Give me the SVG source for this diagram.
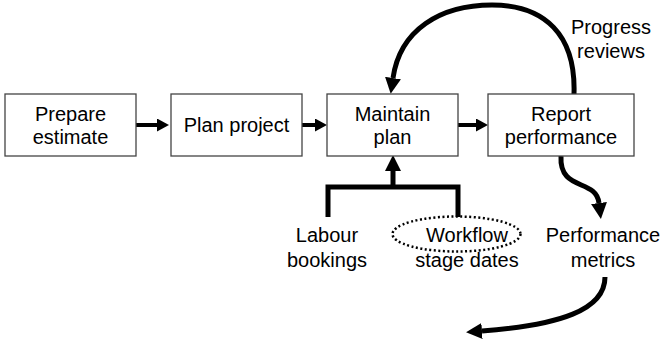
<svg xmlns="http://www.w3.org/2000/svg" width="663" height="345" viewBox="0 0 663 345">
<style>
.box{fill:#fff;stroke:#444;stroke-width:1.3}
text{font-family:"Liberation Sans",Arial,sans-serif;font-size:20px;fill:#000;text-anchor:middle}
.arr{fill:none;stroke:#000;stroke-width:4}
.thk{fill:none;stroke:#000;stroke-width:5}
</style>
<defs>
<marker id="hs" markerUnits="userSpaceOnUse" viewBox="0 0 12 13" refX="0" refY="6.5" markerWidth="12" markerHeight="13" orient="auto"><path d="M0,0 L12,6.5 L0,13 z" fill="#000"/></marker>
<marker id="hb" markerUnits="userSpaceOnUse" viewBox="0 0 16 16" refX="0" refY="8" markerWidth="16" markerHeight="16" orient="auto"><path d="M0,0 L16,8 L0,16 z" fill="#000"/></marker>
</defs>
<g id="connectors">
<path class="arr" d="M136,125 H157" marker-end="url(#hs)"/>
<path class="arr" d="M302,125 H315" marker-end="url(#hs)"/>
<path class="arr" d="M458,125 H476" marker-end="url(#hs)"/>
<path class="thk" d="M574,94 C576,35 545,5 492,5 C440,5 400,30 393,78" marker-end="url(#hb)"/>
<path class="thk" d="M328,217 V187 H458 V217"/>
<path class="thk" d="M393,187 V171" marker-end="url(#hb)"/>
<path class="thk" d="M561,156 C559,192 596,178 599,203" marker-end="url(#hb)"/>
<path class="thk" d="M605,277 C605,310 560,325 482,331" marker-end="url(#hb)"/>
</g>
<g id="prepare-estimate"><rect class="box" x="5" y="94" width="131" height="62"/><text x="70.5" y="121">Prepare</text><text x="70.5" y="144">estimate</text></g>
<g id="plan-project"><rect class="box" x="171" y="94" width="131" height="62"/><text x="236.5" y="132">Plan project</text></g>
<g id="maintain-plan"><rect class="box" x="327" y="94" width="131" height="62"/><text x="392.5" y="121">Maintain</text><text x="392.5" y="144">plan</text></g>
<g id="report-performance"><rect class="box" x="488" y="94" width="146" height="62"/><text x="561" y="121">Report</text><text x="561" y="144">performance</text></g>
<g id="progress-reviews"><text x="611" y="34">Progress</text><text x="611" y="58">reviews</text></g>
<g id="labour-bookings"><text x="327" y="242">Labour</text><text x="327" y="267">bookings</text></g>
<g id="workflow-stage-dates"><ellipse cx="456.5" cy="234" rx="64" ry="17.5" fill="none" stroke="#000" stroke-width="2.5" stroke-dasharray="2 2.5"/><text x="467" y="242">Workflow</text><text x="467" y="267">stage dates</text></g>
<g id="performance-metrics"><text x="603" y="242">Performance</text><text x="603" y="267">metrics</text></g>
</svg>
